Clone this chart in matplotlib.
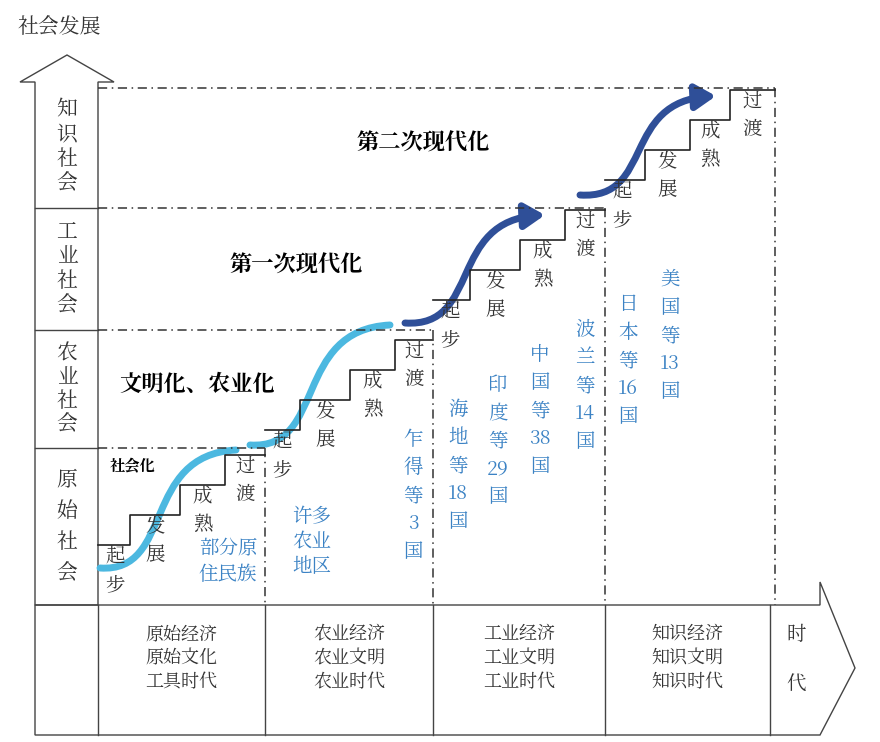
import matplotlib.pyplot as plt
from matplotlib import font_manager
from matplotlib.patches import Polygon, FancyArrowPatch
from matplotlib.path import Path

cjk = [f.name for f in font_manager.fontManager.ttflist if 'CJK' in f.name]
plt.rcParams['font.family'] = (['Noto Sans CJK SC'] if 'Noto Sans CJK SC' in cjk else cjk[:1]) + ['DejaVu Sans']

society_levels = ['知识社会', '工业社会', '农业社会', '原始社会']
row_edges = [85, 208, 330, 448, 605]
eras = ['原始经济\n原始文化\n工具时代', '农业经济\n农业文明\n农业时代',
        '工业经济\n工业文明\n工业时代', '知识经济\n知识文明\n知识时代']
col_edges = [98, 265, 433, 605, 770]
stage_names = ['起步', '发展', '成熟', '过渡']
phase_titles = ['社会化', '文明化、农业化', '第一次现代化', '第二次现代化']
country_groups = [
    ('部分原\n住民族', None), ('许多\n农业\n地区', None),
    (['乍', '得', '等', '3', '国'], 413), (['海', '地', '等', '18', '国'], 458),
    (['印', '度', '等', '29', '国'], 498), (['中', '国', '等', '38', '国'], 540),
    (['波', '兰', '等', '14', '国'], 585), (['日', '本', '等', '16', '国'], 628),
    (['美', '国', '等', '13', '国'], 670)]

BLUE_TXT = '#3b82c4'
LIGHT = '#4cb8e0'
DARK = '#2f4f98'

fig = plt.figure(figsize=(8.8, 7.42), dpi=100)
ax = fig.add_axes([0, 0, 1, 1])
ax.set_xlim(0, 880)
ax.set_ylim(742, 0)
ax.axis('off')

# vertical axis arrow
ax.add_patch(Polygon([(35, 605), (35, 82), (20, 82), (67, 55), (114, 82), (98, 82), (98, 605)],
                     closed=True, fill=False, lw=1, ec='#444'))
for y in row_edges[1:-1]:
    ax.plot([35, 98], [y, y], color='#444', lw=1)
for i, name in enumerate(society_levels):
    y0, y1 = row_edges[i], row_edges[i + 1]
    n = len(name)
    for k, ch in enumerate(name):
        ax.text(67, y0 + (y1 - y0) * (k + 1) / (n + 1), ch, fontsize=15, ha='center', va='center', color='#333')
ax.text(18, 28, '社会发展', fontsize=15, ha='left', va='center', color='#333')

# horizontal axis arrow
ax.add_patch(Polygon([(35, 605), (820, 605), (820, 582), (855, 668), (820, 735), (35, 735)],
                     closed=True, fill=False, lw=1, ec='#444'))
for x in col_edges:
    ax.plot([x, x], [605, 735], color='#444', lw=1)
for i, e in enumerate(eras):
    ax.text((col_edges[i] + col_edges[i + 1]) / 2, 658, e, fontsize=13, ha='center', va='center',
            color='#333', linespacing=1.25)
ax.text(796, 635, '时', fontsize=14, ha='center', va='center', color='#333')
ax.text(796, 685, '代', fontsize=14, ha='center', va='center', color='#333')

# dash-dot grid
dd = dict(color='#333', lw=1.1, ls=(0, (6, 3, 1, 3)))
ax.plot([98, 775], [88, 88], **dd)
ax.plot([98, 605], [208, 208], **dd)
ax.plot([98, 433], [330, 330], **dd)
ax.plot([98, 265], [448, 448], **dd)
ax.plot([265, 265], [448, 605], **dd)
ax.plot([433, 433], [330, 605], **dd)
ax.plot([605, 605], [208, 605], **dd)
ax.plot([775, 775], [88, 605], **dd)

# stairs
stair_starts = [(98, 545), (265, 430), (433, 300), (605, 180)]
widths = [[32, 50, 45, 40], [35, 50, 45, 38], [37, 50, 45, 40], [40, 45, 40, 45]]
for (x0, y0), ws in zip(stair_starts, widths):
    xs, ys = [x0], [y0]
    x, y = x0, y0
    for j, w in enumerate(ws):
        x += w
        xs.append(x); ys.append(y)
        if j < 3:
            y -= 30
            xs.append(x); ys.append(y)
    ax.plot(xs, ys, color='#222', lw=1.2)
    x = x0
    for j, w in enumerate(ws):
        cx = x + w / 2 if j else x + 17
        cy = y0 - 30 * j + 12
        ax.text(cx, cy, stage_names[j][0], fontsize=14, ha='center', va='center', color='#333')
        ax.text(cx, cy + 28, stage_names[j][1], fontsize=14, ha='center', va='center', color='#333')
        x += w


def scurve(p0, p1):
    (x0, y0), (x1, y1) = p0, p1
    dx = x1 - x0
    return Path([(x0, y0), (x0 + dx * 0.55, y0 + 5), (x0 + dx * 0.3, y1 + 5), (x1, y1)],
                [Path.MOVETO, Path.CURVE4, Path.CURVE4, Path.CURVE4])


for p0, p1 in [((100, 568), (236, 450)), ((250, 445), (390, 325))]:
    ax.add_patch(FancyArrowPatch(path=scurve(p0, p1), arrowstyle='-', color=LIGHT, lw=5))
for p0, p1 in [((405, 323), (545, 215)), ((580, 195), (716, 96))]:
    ax.add_patch(FancyArrowPatch(path=scurve(p0, p1), arrowstyle='-|>,head_length=4,head_width=2.5',
                                 color=DARK, lw=5, mutation_scale=3))

# phase titles
ax.text(133, 467, phase_titles[0], fontsize=11, fontweight='bold', ha='center', va='center')
ax.text(197, 385, phase_titles[1], fontsize=16, fontweight='bold', ha='center', va='center')
ax.text(296, 265, phase_titles[2], fontsize=16, fontweight='bold', ha='center', va='center')
ax.text(423, 143, phase_titles[3], fontsize=16, fontweight='bold', ha='center', va='center')

# country groups
ax.text(228, 562, country_groups[0][0], fontsize=14, ha='center', va='center', color=BLUE_TXT, linespacing=1.4)
ax.text(312, 542, country_groups[1][0], fontsize=14, ha='center', va='center', color=BLUE_TXT, linespacing=1.3)
tops = [440, 410, 385, 355, 330, 305, 280]
for (chars, x), top in zip(country_groups[2:], tops):
    for k, ch in enumerate(chars):
        ax.text(x, top + 28 * k, ch, fontsize=14, ha='center', va='center', color=BLUE_TXT)

fig.savefig('out.png', dpi=100)
